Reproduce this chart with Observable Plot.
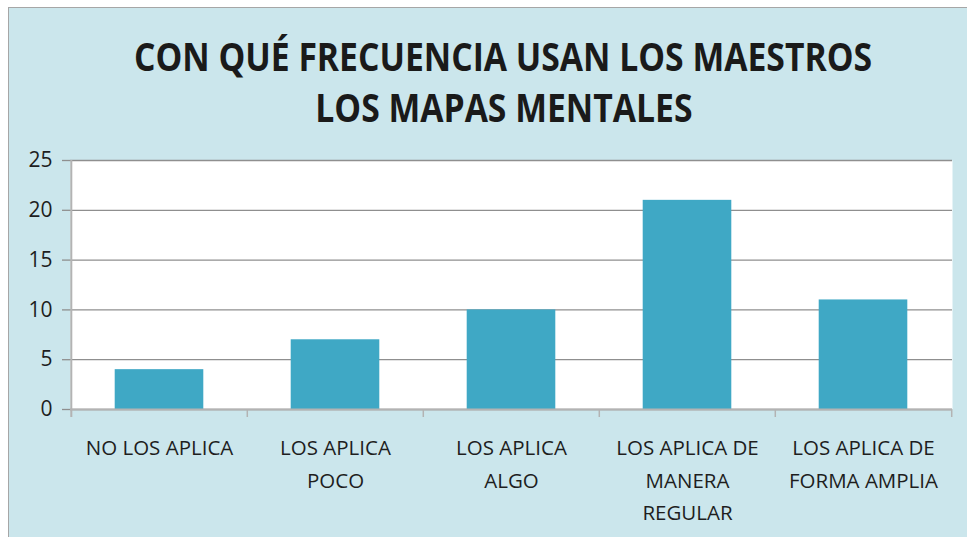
<!DOCTYPE html>
<html>
<head>
<meta charset="utf-8">
<script src="https://cdn.jsdelivr.net/npm/d3@7"></script>
<script src="https://cdn.jsdelivr.net/npm/@observablehq/plot@0.6"></script>
<style>
  html, body { margin: 0; padding: 0; background: #ffffff; }
  #page { position: relative; width: 967px; height: 537px; overflow: hidden; }
  #frame { position: absolute; left: 8px; top: 7px; right: 0; bottom: 0;
           background: #cbe6ec; border-left: 1.5px solid #a6a6a6; border-top: 1.5px solid #a6a6a6; }
  .title { position: absolute; left: 40px; width: 927px; height: 50px; line-height: 50px;
           text-align: center; font-family: "Open Sans", sans-serif; font-weight: 700;
           font-size: 40px; color: #1a1a1a; white-space: nowrap; }
  .title span { display: inline-block; transform-origin: center; }
  #chart { position: absolute; left: 0; top: 140px; }
</style>
</head>
<body>
<div id="page">
  <div id="frame"></div>
  <div class="title" id="t1" style="top:31px"><span>CON QUÉ FRECUENCIA USAN LOS MAESTROS</span></div>
  <div class="title" id="t2" style="top:82px"><span>LOS MAPAS MENTALES</span></div>
  <div id="chart"></div>
</div>
<script>
const categories = ["NO LOS APLICA", "LOS APLICA\nPOCO", "LOS APLICA\nALGO", "LOS APLICA DE\nMANERA\nREGULAR", "LOS APLICA DE\nFORMA AMPLIA"];
const values = [4, 7, 10, 21, 11];
const yTicks = [0, 5, 10, 15, 20, 25];

const data = categories.map((c, i) => ({category: c, value: values[i]}));

// condense title to match the narrow bold face of the original
const s1 = document.querySelector("#t1 span");
const s2 = document.querySelector("#t2 span");
const k = 738 / s1.getBoundingClientRect().width;
s1.style.transform = `scaleX(${k})`;
s2.style.transform = `scaleX(${k})`;

const W = 967, H = 397, ML = 70, MR = 15;
const step = (W - ML - MR) / categories.length;
const half = step / 2;
const lineColor = "#8f8f8f";
const axisColor = "#b3b3b3";

const chart = Plot.plot({
  width: W,
  height: H,
  marginLeft: ML,
  marginRight: MR,
  marginTop: 20,
  marginBottom: 128,
  style: {background: "transparent", fontFamily: "'Open Sans', sans-serif", color: "#1e1e1e"},
  x: {domain: categories, padding: 0, label: null},
  y: {domain: [0, 25], label: null},
  marks: [
    Plot.frame({fill: "white", stroke: null}),
    Plot.gridY(yTicks, {stroke: lineColor, strokeOpacity: 1, strokeWidth: 1.3}),
    Plot.barY(data, {x: "category", y: "value", fill: "#3fa8c5", insetLeft: (step - 89) / 2, insetRight: (step - 89) / 2}),
    Plot.ruleY([0], {stroke: axisColor, strokeWidth: 2}),
    Plot.ruleX([categories[0]], {dx: -half, y1: 0, y2: 25, insetTop: 8, stroke: axisColor, strokeWidth: 2}),
    Plot.ruleX(categories.slice(1), {dx: -half, y1: 0, y2: 0, insetBottom: -8, stroke: axisColor, strokeWidth: 1.5}),
    Plot.ruleX([categories[categories.length - 1]], {dx: half, y1: 0, y2: 0, insetBottom: -8, stroke: axisColor, strokeWidth: 1.5}),
    Plot.axisY(yTicks, {tickSize: 8, tickPadding: 10, fontSize: 21, stroke: lineColor, strokeWidth: 1.3, fill: "#1e1e1e", label: null}),
    Plot.axisX({tickSize: 0, tickPadding: 22, fontSize: 20.5, lineHeight: 1.6, fill: "#1e1e1e", label: null})
  ]
});
document.getElementById("chart").appendChild(chart);
</script>
</body>
</html>
